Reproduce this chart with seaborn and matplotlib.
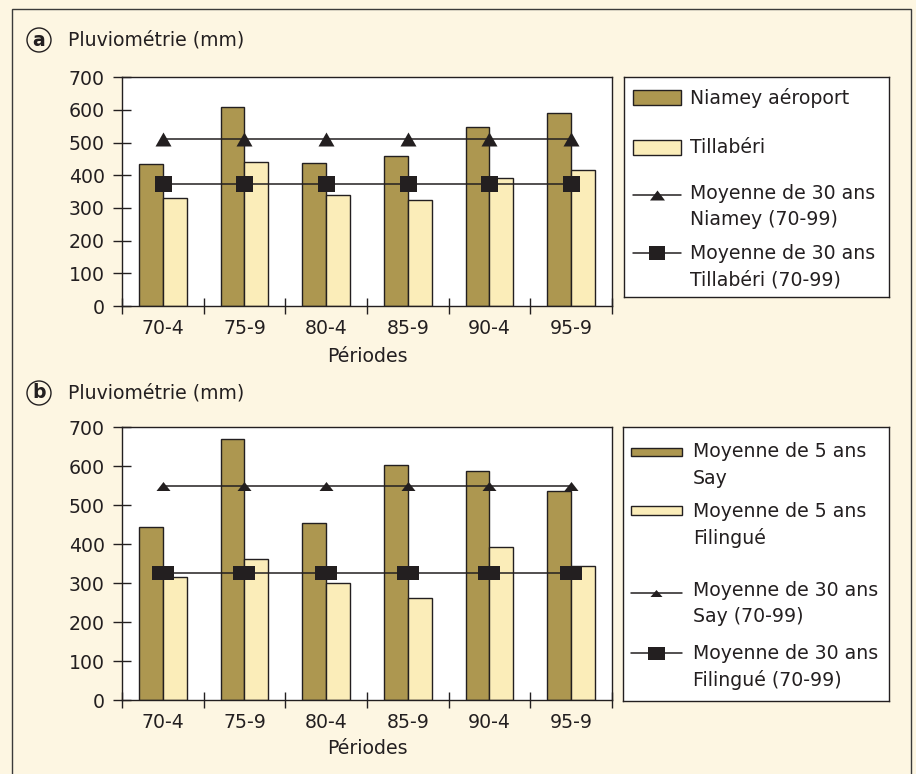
import numpy as np
import pandas as pd
import matplotlib
matplotlib.use("Agg")
import matplotlib.pyplot as plt
from matplotlib.patches import Rectangle, Ellipse
import seaborn as sns

# ---- data -------------------------------------------------------------
periods = ["70-4", "75-9", "80-4", "85-9", "90-4", "95-9"]

# (a) five-year rainfall totals and 30-year means
niamey = [435, 608, 437, 460, 548, 591]
tillaberi = [330, 441, 341, 325, 391, 415]
niamey_mean30 = [512, 512, 512, 512, 512, 512]
tillaberi_mean30 = [373, 373, 373, 373, 373, 373]
labels_a = ["Niamey aéroport", "Tillabéri",
            "Moyenne de 30 ans\nNiamey (70-99)",
            "Moyenne de 30 ans\nTillabéri (70-99)"]

# (b) five-year means and 30-year means
say = [443, 669, 454, 604, 589, 536]
filingue = [316, 362, 300, 262, 394, 343]
say_mean30 = [549, 549, 549, 549, 549, 549]
filingue_mean30 = [327, 327, 327, 327, 327, 327]
labels_b = ["Moyenne de 5 ans\nSay", "Moyenne de 5 ans\nFilingué",
            "Moyenne de 30 ans\nSay (70-99)",
            "Moyenne de 30 ans\nFilingué (70-99)"]

yticks = [0, 100, 200, 300, 400, 500, 600, 700]
ylabel_text = "Pluviométrie (mm)"
xlabel_text = "Périodes"

# ---- style ------------------------------------------------------------
W, H = 916, 774
BG = "#FDF6E2"
OLIVE = "#AD9750"
CREAM = "#FBEDB9"
INK = "#231F20"
FS = 13.6

sns.set_style("ticks")
plt.rcParams["font.family"] = ["DejaVu Sans"]
plt.rcParams["text.color"] = INK
plt.rcParams["axes.labelcolor"] = INK
plt.rcParams["xtick.color"] = INK
plt.rcParams["ytick.color"] = INK

fig = plt.figure(figsize=(W / 100, H / 100), dpi=100, facecolor=BG)


def fx(px):
    return px / W


def fy(py):
    return 1 - py / H


def px2pt(p):
    return p * 0.72


def box_marker(w, h):
    return [(-w / 2, -h / 2), (w / 2, -h / 2), (w / 2, h / 2), (-w / 2, h / 2), (-w / 2, -h / 2)]


def tri_marker(w, h):
    return [(-w / 2, -h / 2), (w / 2, -h / 2), (0, h / 2), (-w / 2, -h / 2)]


def panel(rect, v1, v2, names, m1, m2, tri, sq):
    ax = fig.add_axes(rect)
    ax.set_facecolor("white")
    df = pd.DataFrame({
        "Période": periods * 2,
        "mm": list(v1) + list(v2),
        "Série": [names[0]] * len(v1) + [names[1]] * len(v2),
    })
    sns.barplot(data=df, x="Période", y="mm", hue="Série",
                palette=[OLIVE, CREAM], saturation=1, width=0.58,
                edgecolor=INK, linewidth=1.0, errorbar=None,
                legend=False, ax=ax, zorder=2)
    xs = np.arange(len(periods))
    tw, th = tri
    sw, sh = sq
    ax.plot(xs, m1, color=INK, lw=1.1, zorder=3,
            marker=tri_marker(tw, th), ms=px2pt(max(tw, th)), mew=0, mfc=INK)
    ax.plot(xs, m2, color=INK, lw=1.1, zorder=3,
            marker=box_marker(sw, sh), ms=px2pt(max(sw, sh)), mew=0, mfc=INK)

    ax.set_xlim(-0.5, len(periods) - 0.5)
    ax.set_ylim(0, 700)
    ax.set_yticks(yticks)
    ax.set_yticklabels([str(t) for t in yticks], fontsize=FS)
    ax.set_xticks(np.arange(-0.5, len(periods), 1))
    ax.set_xticklabels([])
    ax.set_xticks(xs, minor=True)
    ax.set_xticklabels(periods, minor=True, fontsize=FS)
    ax.tick_params(axis="y", which="major", direction="inout", length=13.5,
                   width=1.0, pad=5.5)
    ax.tick_params(axis="x", which="major", direction="inout", length=11,
                   width=1.0)
    ax.tick_params(axis="x", which="minor", length=0, pad=9.5)
    ax.set_ylabel("")
    ax.set_xlabel(xlabel_text, fontsize=FS)
    for s in ax.spines.values():
        s.set_visible(True)
        s.set_color(INK)
        s.set_linewidth(1.0)
    return ax


ax_a = panel([fx(122), fy(306), fx(612) - fx(122), fy(77.3) - fy(306)],
             niamey, tillaberi, labels_a[:2], niamey_mean30, tillaberi_mean30,
             tri=(16, 14), sq=(17, 16))
ax_a.xaxis.set_label_coords(0.5, -0.178)

ax_b = panel([fx(122), fy(700), fx(612) - fx(122), fy(427.3) - fy(700)],
             say, filingue, labels_b[:2], say_mean30, filingue_mean30,
             tri=(14, 9), sq=(23, 15))
ax_b.xaxis.set_label_coords(0.5, -0.143)


# ---- legends ------------------------------------------------------------
def legend_box(left, top, right, bottom, entries, text_x):
    lax = fig.add_axes([fx(left), fy(bottom), fx(right) - fx(left), fy(top) - fy(bottom)])
    lax.set_xlim(0, right - left)
    lax.set_ylim(bottom - top, 0)
    lax.set_xticks([])
    lax.set_yticks([])
    lax.set_facecolor("white")
    for s in lax.spines.values():
        s.set_color(INK)
        s.set_linewidth(1.0)
    for e in entries:
        y = e["y"]
        if e["kind"] == "patch":
            lax.add_patch(Rectangle((e["x0"], y - e["h"] / 2), e["x1"] - e["x0"], e["h"],
                                    facecolor=e["color"], edgecolor=INK, lw=1.0))
        else:
            mw, mh = e["size"]
            lax.plot([e["x0"], e["x1"]], [y, y], color=INK, lw=1.1)
            lax.plot([(e["x0"] + e["x1"]) / 2], [y], color=INK, mew=0,
                     marker=e["marker"](mw, mh), ms=px2pt(max(mw, mh)))
        for i, line in enumerate(e["label"].split("\n")):
            lax.text(text_x, e["ty"] + i * 26.5, line, fontsize=FS,
                     va="center", ha="left")
    return lax


legend_box(624, 77.3, 889, 297.3, [
    dict(kind="patch", y=20.5, ty=21, h=15, x0=8.7, x1=57, color=OLIVE, label=labels_a[0]),
    dict(kind="patch", y=70, ty=70, h=15, x0=8.7, x1=57, color=CREAM, label=labels_a[1]),
    dict(kind="line", y=117.7, ty=116, x0=8.7, x1=57, marker=tri_marker, size=(15, 10), label=labels_a[2]),
    dict(kind="line", y=175.4, ty=176, x0=8.7, x1=57, marker=box_marker, size=(16, 14), label=labels_a[3]),
], text_x=66)

legend_box(623.3, 426.7, 889, 700.7, [
    dict(kind="patch", y=25.1, ty=25, h=8.5, x0=7.7, x1=58.4, color=OLIVE, label=labels_b[0]),
    dict(kind="patch", y=83.3, ty=85, h=9, x0=7.7, x1=58.4, color=CREAM, label=labels_b[1]),
    dict(kind="line", y=166, ty=163.3, x0=7.7, x1=58.4, marker=tri_marker, size=(12, 7), label=labels_b[2]),
    dict(kind="line", y=226.6, ty=226.6, x0=7.7, x1=58.4, marker=box_marker, size=(17, 13), label=labels_b[3]),
], text_x=69.4)

# ---- panel headings -----------------------------------------------------
for letter, cy in (("a", 40), ("b", 393)):
    fig.add_artist(Ellipse((fx(39), fy(cy)), 24 / W, 24 / H, facecolor="none",
                           edgecolor=INK, lw=1.0, transform=fig.transFigure))
    fig.text(fx(39), fy(cy), letter, fontsize=FS, fontweight="bold",
             ha="center", va="center")
    fig.text(fx(68), fy(cy), ylabel_text, fontsize=FS, ha="left", va="center")

# outer frame
fig.add_artist(Rectangle((fx(12), -0.01), fx(911) - fx(12), fy(9) + 0.01,
                         facecolor="none", edgecolor="#3a3a3a", lw=1.0,
                         transform=fig.transFigure))

fig.savefig("out.png", dpi=100, facecolor=BG)
